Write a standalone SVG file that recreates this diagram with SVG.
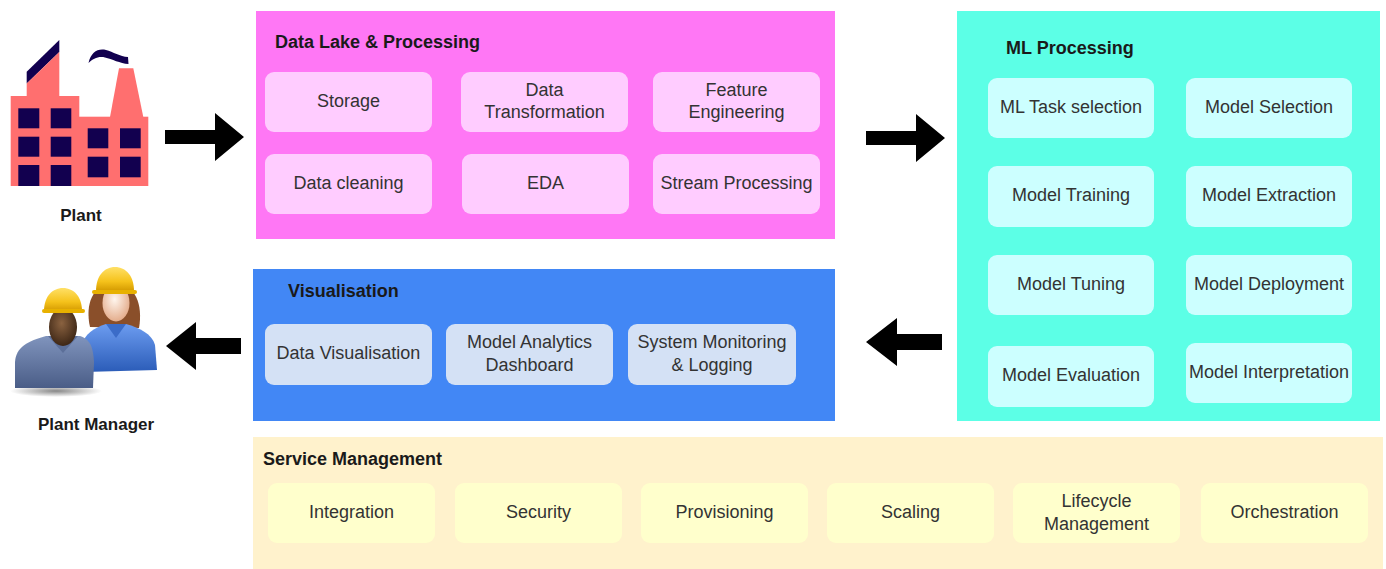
<svg xmlns="http://www.w3.org/2000/svg" width="1386" height="569" viewBox="0 0 1386 569">
  <style>
    text { font-family: "Liberation Sans", Arial, sans-serif; }
    .title { font-size: 18px; font-weight: bold; fill: #1a1a1a; }
    .lbl { font-size: 18px; fill: #333333; text-anchor: middle; }
    .cap { font-size: 17px; font-weight: bold; fill: #1a1a1a; text-anchor: middle; }
    .dl { fill: #ffccff; }
    .ml { fill: #ccffff; }
    .vz { fill: #d4e1f5; }
    .sm { fill: #ffffcc; }
    .arrow { fill: #000000; }
    .navy { fill: #12004f; }
    .brick { fill: #ff6f6f; }
  </style>
  <defs>
    <linearGradient id="helmet" x1="0" y1="0" x2="0" y2="1">
      <stop offset="0" stop-color="#ffe066"/>
      <stop offset="0.6" stop-color="#f5c21b"/>
      <stop offset="1" stop-color="#d49a00"/>
    </linearGradient>
    <radialGradient id="faceLight" cx="0.45" cy="0.4" r="0.6">
      <stop offset="0" stop-color="#fff6ee"/>
      <stop offset="1" stop-color="#e4ad8c"/>
    </radialGradient>
    <radialGradient id="faceDark" cx="0.45" cy="0.4" r="0.6">
      <stop offset="0" stop-color="#8a6240"/>
      <stop offset="1" stop-color="#3e2716"/>
    </radialGradient>
    <linearGradient id="shirtBlue" x1="0" y1="0" x2="0" y2="1">
      <stop offset="0" stop-color="#6c9cf0"/>
      <stop offset="1" stop-color="#2b5cb8"/>
    </linearGradient>
    <linearGradient id="shirtGrey" x1="0" y1="0" x2="0" y2="1">
      <stop offset="0" stop-color="#8094bd"/>
      <stop offset="1" stop-color="#4a5d87"/>
    </linearGradient>
    <radialGradient id="shadow" cx="0.5" cy="0.5" r="0.5">
      <stop offset="0" stop-color="#555" stop-opacity="0.7"/>
      <stop offset="1" stop-color="#555" stop-opacity="0"/>
    </radialGradient>
  </defs>

  <rect width="1386" height="569" fill="#ffffff"/>

  <!-- Plant: factory icon -->
  <g id="plant">
    <polygon class="navy" points="26.7,71.7 59.3,40 59.3,52 26.7,83.5"/>
    <polygon class="brick" points="26.7,83.5 59.3,52 59.3,96 26.7,96"/>
    <rect class="brick" x="10.7" y="96" width="68.6" height="90"/>
    <rect class="brick" x="79" y="116.7" width="69.3" height="69.3"/>
    <polygon class="brick" points="110,117 119,68.3 133.3,68.3 143.3,117"/>
    <path d="M88.5,63 C91,52 98,48 106,50 C113,52 120,56.5 128,57 L128.5,64 C120,63.5 112,59 105,57.5 C98,56 93,59 88.5,63 Z" class="navy"/>
    <rect class="navy" x="18.3" y="108.3" width="21" height="20"/>
    <rect class="navy" x="50.7" y="108.3" width="20.6" height="20"/>
    <rect class="navy" x="18.3" y="136.7" width="21" height="20"/>
    <rect class="navy" x="50.7" y="136.7" width="20.6" height="20"/>
    <rect class="navy" x="18.3" y="165" width="21" height="21"/>
    <rect class="navy" x="50.7" y="165" width="20.6" height="21"/>
    <rect class="navy" x="87.7" y="128.3" width="20.6" height="20"/>
    <rect class="navy" x="120" y="128.3" width="20.7" height="20"/>
    <rect class="navy" x="87.7" y="156.7" width="20.6" height="20.6"/>
    <rect class="navy" x="120" y="156.7" width="20.7" height="20.6"/>
    <text class="cap" x="81" y="221">Plant</text>
  </g>

  <!-- Plant Manager: two workers icon -->
  <g id="plant-manager">
    <ellipse cx="56" cy="391" rx="46" ry="6" fill="url(#shadow)"/>
    <!-- woman (back) -->
    <path d="M90,327 C85,305 92,284 114,283 C136,284 143,305 139,328 Z" fill="#8a4f2a"/>
    <path d="M84,372 L82,346 C84,334 94,328 106,324 L126,324 C140,328 152,334 155,345 L157,370 Z" fill="url(#shirtBlue)"/>
    <path d="M106,324 L116,338 L126,324 Z" fill="#3b6cc8"/>
    <ellipse cx="116" cy="303" rx="13.5" ry="18.5" fill="url(#faceLight)"/>
    <path d="M96,291 C96,276 104,267 115,267 C126,267 134,276 134,291 Z" fill="url(#helmet)"/>
    <rect x="92" y="290" width="45" height="4" rx="2" fill="#e8b100"/>
    <!-- man (front) -->
    <path d="M15,388 L15,362 C16,347 28,341 46,336 L80,336 C92,340 93,350 94,362 L93,388 Z" fill="url(#shirtGrey)"/>
    <path d="M48,336 L63,353 L78,336 Z" fill="#5c6f99"/>
    <ellipse cx="63" cy="327" rx="14" ry="19" fill="url(#faceDark)"/>
    <path d="M44,311 C44,297 52,288 63,288 C74,288 82,297 82,311 Z" fill="url(#helmet)"/>
    <rect x="42" y="309" width="43" height="4" rx="2" fill="#e8b100"/>
    <text class="cap" x="96" y="430">Plant Manager</text>
  </g>

  <!-- Data Lake & Processing -->
  <g id="data-lake">
    <rect x="256" y="11" width="579" height="228" fill="#ff77f5"/>
    <text class="title" x="275" y="48">Data Lake &amp; Processing</text>
    <rect class="dl" x="265" y="72" width="167" height="60" rx="9"/>
    <text class="lbl" x="348.5" y="107">Storage</text>
    <rect class="dl" x="461" y="72" width="167" height="60" rx="9"/>
    <text class="lbl" x="544.5" y="96">Data</text>
    <text class="lbl" x="544.5" y="118">Transformation</text>
    <rect class="dl" x="653" y="72" width="167" height="60" rx="9"/>
    <text class="lbl" x="736.5" y="96">Feature</text>
    <text class="lbl" x="736.5" y="118">Engineering</text>
    <rect class="dl" x="265" y="154" width="167" height="60" rx="9"/>
    <text class="lbl" x="348.5" y="189">Data cleaning</text>
    <rect class="dl" x="462" y="154" width="167" height="60" rx="9"/>
    <text class="lbl" x="545.5" y="189">EDA</text>
    <rect class="dl" x="653" y="154" width="167" height="60" rx="9"/>
    <text class="lbl" x="736.5" y="189">Stream Processing</text>
  </g>

  <!-- ML Processing -->
  <g id="ml-processing">
    <rect x="957" y="11" width="423" height="410" fill="#5cffe6"/>
    <text class="title" x="1006" y="54">ML Processing</text>
    <rect class="ml" x="988" y="78" width="166" height="60" rx="9"/>
    <text class="lbl" x="1071" y="113">ML Task selection</text>
    <rect class="ml" x="1186" y="78" width="166" height="60" rx="9"/>
    <text class="lbl" x="1269" y="113">Model Selection</text>
    <rect class="ml" x="988" y="166" width="166" height="61" rx="9"/>
    <text class="lbl" x="1071" y="201">Model Training</text>
    <rect class="ml" x="1186" y="166" width="166" height="61" rx="9"/>
    <text class="lbl" x="1269" y="201">Model Extraction</text>
    <rect class="ml" x="988" y="255" width="166" height="60" rx="9"/>
    <text class="lbl" x="1071" y="290">Model Tuning</text>
    <rect class="ml" x="1186" y="255" width="166" height="60" rx="9"/>
    <text class="lbl" x="1269" y="290">Model Deployment</text>
    <rect class="ml" x="988" y="346" width="166" height="61" rx="9"/>
    <text class="lbl" x="1071" y="381">Model Evaluation</text>
    <rect class="ml" x="1186" y="343" width="166" height="60" rx="9"/>
    <text class="lbl" x="1269" y="378">Model Interpretation</text>
  </g>

  <!-- Visualisation -->
  <g id="visualisation">
    <rect x="253" y="269" width="582" height="152" fill="#4287f5"/>
    <text class="title" x="288" y="297">Visualisation</text>
    <rect class="vz" x="265" y="324" width="167" height="61" rx="9"/>
    <text class="lbl" x="348.5" y="359">Data Visualisation</text>
    <rect class="vz" x="446" y="324" width="167" height="61" rx="9"/>
    <text class="lbl" x="529.5" y="348">Model Analytics</text>
    <text class="lbl" x="529.5" y="371">Dashboard</text>
    <rect class="vz" x="628" y="324" width="168" height="61" rx="9"/>
    <text class="lbl" x="712" y="348">System Monitoring</text>
    <text class="lbl" x="712" y="371">&amp; Logging</text>
  </g>

  <!-- Service Management -->
  <g id="service-management">
    <rect x="253" y="437" width="1130" height="132" fill="#fff2cc"/>
    <text class="title" x="263" y="465">Service Management</text>
    <rect class="sm" x="268" y="483" width="167" height="60" rx="9"/>
    <text class="lbl" x="351.5" y="518">Integration</text>
    <rect class="sm" x="455" y="483" width="167" height="60" rx="9"/>
    <text class="lbl" x="538.5" y="518">Security</text>
    <rect class="sm" x="641" y="483" width="167" height="60" rx="9"/>
    <text class="lbl" x="724.5" y="518">Provisioning</text>
    <rect class="sm" x="827" y="483" width="167" height="60" rx="9"/>
    <text class="lbl" x="910.5" y="518">Scaling</text>
    <rect class="sm" x="1013" y="483" width="167" height="60" rx="9"/>
    <text class="lbl" x="1096.5" y="507">Lifecycle</text>
    <text class="lbl" x="1096.5" y="530">Management</text>
    <rect class="sm" x="1201" y="483" width="167" height="60" rx="9"/>
    <text class="lbl" x="1284.5" y="518">Orchestration</text>
  </g>

  <!-- Flow arrows -->
  <g id="connectors">
    <polygon class="arrow" points="165,130 215,130 215,113 244,137 215,161 215,144 165,144"/>
    <polygon class="arrow" points="866,131 916,131 916,114 945,138 916,162 916,145 866,145"/>
    <polygon class="arrow" points="866,342 897,318 897,334 942,334 942,350 897,350 897,366"/>
    <polygon class="arrow" points="166,346 196,322 196,338 241,338 241,354 196,354 196,370"/>
  </g>
</svg>
